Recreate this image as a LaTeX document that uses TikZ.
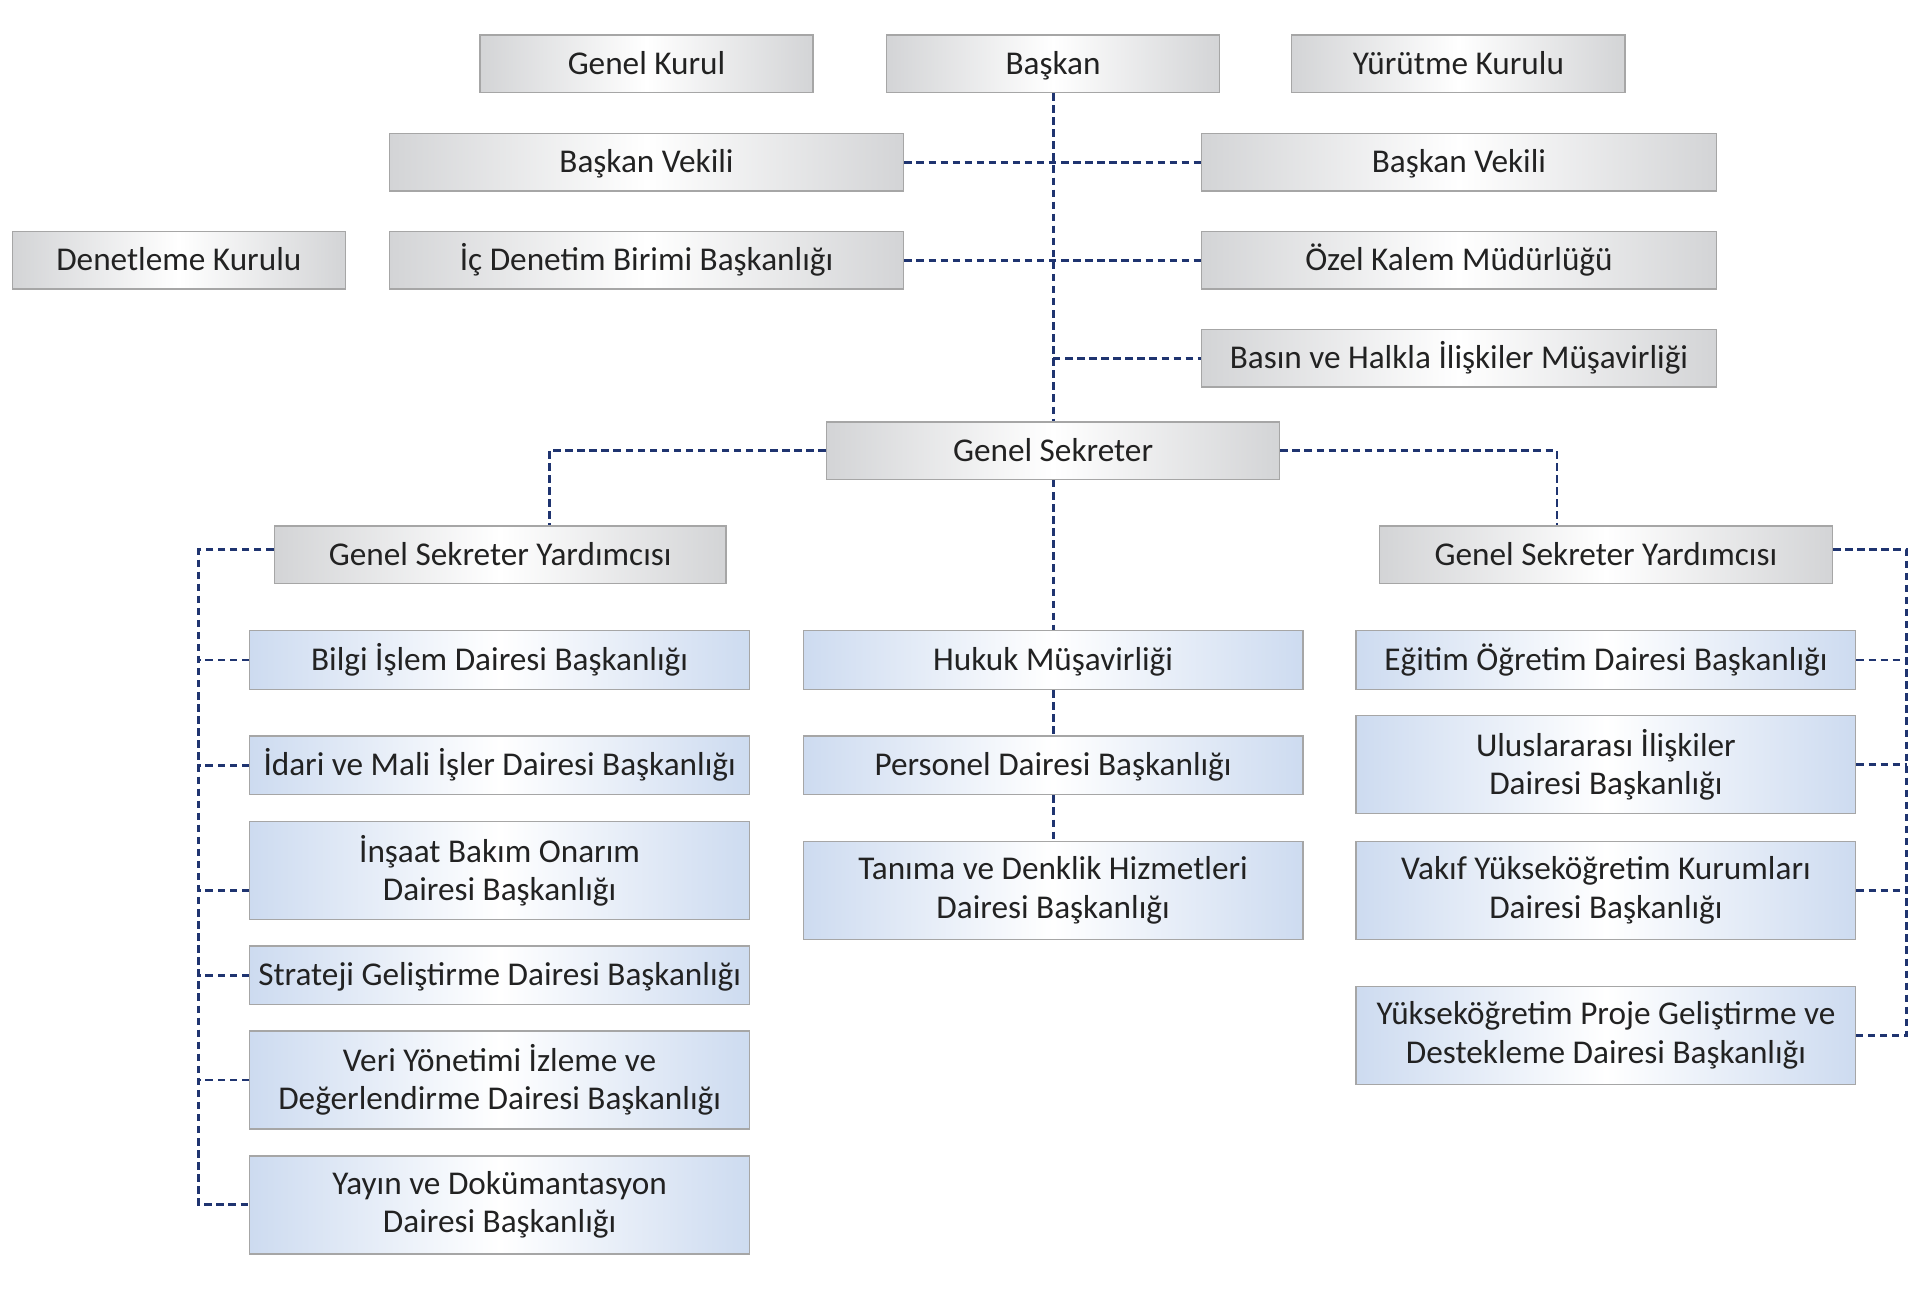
\documentclass[tikz,border=0pt]{standalone}
\usepackage{fontspec}
\setmainfont{Carlito}
\definecolor{boxgray}{HTML}{D3D4D6}
\definecolor{boxblue}{HTML}{CDDBF0}
\definecolor{boxline}{HTML}{A6A6A6}
\definecolor{linknavy}{HTML}{1F3470}
\definecolor{txt}{HTML}{222222}

\begin{document}
\begin{tikzpicture}[x=0.025cm,y=-0.025cm]
    \tikzstyle{box}=[rectangle,draw=boxline,line width=0.8pt,text=txt,align=center,inner xsep=1pt,font=\fontsize{19.3}{22.3}\selectfont,minimum height=1.175cm]
    \tikzstyle{oneline}=[text height=12.2pt,text depth=0pt]
    \tikzstyle{graybox}=[box,oneline,left color=boxgray,right color=boxgray,middle color=white]
    \tikzstyle{bluebox}=[box,left color=boxblue,right color=boxblue,middle color=white,minimum width=10.2cm]
    \tikzstyle{link}=[draw=linknavy,line width=1.7pt,dash pattern=on 4.3pt off 2.7pt]

    \path[fill=white] (0,0) rectangle (1568,1052.7);

    % top
    \foreach \num/\x/\txt in {1/528/Genel Kurul, 2/860/Başkan, 3/1191/Yürütme Kurulu}
        \node[graybox,minimum width=6.8cm] (T-\num) at (\x,52) {\txt};

    \node[graybox,minimum width=10.5cm] (BV-1) at (528,132.5) {Başkan Vekili};
    \node[graybox,minimum width=10.5cm] (BV-2) at (1191.5,132.5) {Başkan Vekili};
    \node[graybox,minimum width=6.8cm] (DK) at (146,212.5) {Denetleme Kurulu};
    \node[graybox,minimum width=10.5cm] (ID) at (528,212.5) {İç Denetim Birimi Başkanlığı};
    \node[graybox,minimum width=10.5cm] (OK) at (1191.5,212.5) {Özel Kalem Müdürlüğü};
    \node[graybox,minimum width=10.5cm] (BH) at (1191.5,292.5) {Basın ve Halkla İlişkiler Müşavirliği};

    \node[graybox,minimum width=9.25cm] (GS) at (860,368) {Genel Sekreter};
    \node[graybox,minimum width=9.225cm] (GSY-1) at (408.5,453) {Genel Sekreter Yardımcısı};
    \node[graybox,minimum width=9.25cm] (GSY-2) at (1311.5,453) {Genel Sekreter Yardımcısı};

    % daireler
    \foreach \num/\y/\h/\txt in {1/539/1.2cm/Bilgi İşlem Dairesi Başkanlığı, 2/625/1.2cm/İdari ve Mali İşler Dairesi Başkanlığı, 4/796.5/1.19cm/Strateji Geliştirme Dairesi Başkanlığı}
        \node[bluebox,oneline,minimum height=\h] (L-\num) at (408,\y) {\txt};
    \foreach \num/\y/\txt in {3/711/İnşaat Bakım Onarım\\Dairesi Başkanlığı, 5/882/Veri Yönetimi İzleme ve\\Değerlendirme Dairesi Başkanlığı, 6/984/Yayın ve Dokümantasyon\\Dairesi Başkanlığı}
        \node[bluebox,minimum height=2cm] (L-\num) at (408,\y) {\txt};

    \foreach \num/\y/\txt in {1/539/Hukuk Müşavirliği, 2/625/Personel Dairesi Başkanlığı}
        \node[bluebox,oneline,minimum height=1.2cm] (M-\num) at (860,\y) {\txt};
    \node[bluebox,minimum height=2cm] (M-3) at (860,727) {Tanıma ve Denklik Hizmetleri\\Dairesi Başkanlığı};

    \node[bluebox,oneline,minimum height=1.2cm] (R-1) at (1311.5,539) {Eğitim Öğretim Dairesi Başkanlığı};
    \foreach \num/\y/\txt in {2/624.5/Uluslararası İlişkiler\\Dairesi Başkanlığı, 3/727/Vakıf Yükseköğretim Kurumları\\Dairesi Başkanlığı, 4/845.5/Yükseköğretim Proje Geliştirme ve\\Destekleme Dairesi Başkanlığı}
        \node[bluebox,minimum height=2cm] (R-\num) at (1311.5,\y) {\txt};

    % links
    \draw[link] (T-2.south) -- (GS.north);
    \draw[link] (BV-1.east) -- (BV-2.west);
    \draw[link] (ID.east) -- (OK.west);
    \draw[link] (T-2.south |- BH.west) -- (BH.west);
    \draw[link] (GS.west) -| ([xshift=28.4pt]GSY-1.north);
    \draw[link] (GS.east) -| ([xshift=-28.4pt]GSY-2.north);
    \draw[link] (GS.south) -- (M-1.north);
    \draw[link] (M-1.south) -- (M-2.north);
    \draw[link] (M-2.south) -- (M-3.north);

    \draw[link] ([yshift=2.8pt]GSY-1.west) -- ++(-61,0) |- (L-6.west);
    \foreach \num in {1,2,4,5}
        \draw[link] (L-\num.west) -- ++(-41,0);
    \draw[link] ([yshift=-11.4pt]L-3.west) -- ++(-41,0);

    \draw[link] ([yshift=2.8pt]GSY-2.east) -- ++(60,0) |- (R-4.east);
    \foreach \num in {1,2,3}
        \draw[link] (R-\num.east) -- ++(41,0);
\end{tikzpicture}
\end{document}
